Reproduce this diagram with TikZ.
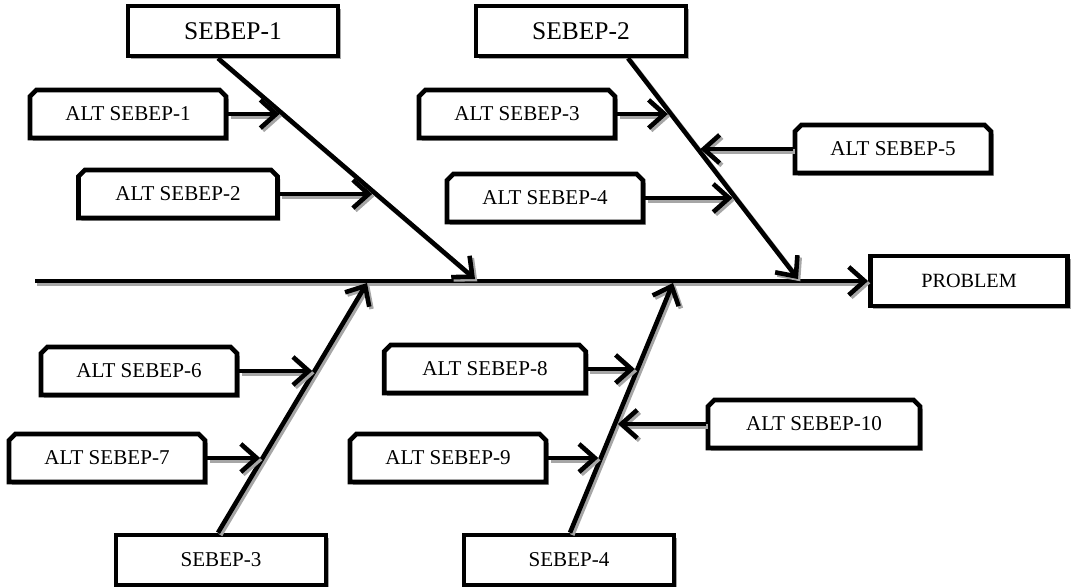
\documentclass[tikz,border=0pt]{standalone}
\usepackage{fontspec}
\setmainfont{Liberation Serif}
\usetikzlibrary{arrows.meta,calc,positioning,shapes.misc,shadows}

\begin{document}
\begin{tikzpicture}[x=0.02cm,y=-0.02cm,>={Straight Barb[length=9pt,width=16pt]},
  shade/.style={drop shadow={shadow xshift=1.6pt,shadow yshift=-1.6pt,fill=gray!70,opacity=1}},
  mainbox/.style={draw,line width=2.6pt,fill=white,minimum width=4.2cm,minimum height=1cm,inner sep=1pt,shade},
  altbox/.style={draw,line width=2.6pt,fill=white,chamfered rectangle,
    chamfered rectangle corners={north west,north east},chamfered rectangle xsep=1.8pt,chamfered rectangle ysep=1.8pt,
    minimum width=3.92cm,minimum height=0.96cm,inner sep=1pt,font=\fontsize{12}{14}\selectfont,shade},
  bone/.style={line width=2.6pt,->,preaction={draw=gray!70,line width=2.6pt,transform canvas={shift={(1.3pt,-1.3pt)}}}}]
  \useasboundingbox (0,0) rectangle (1078,587);
  % heads of the bones
  \node[mainbox,font=\fontsize{14.5}{16}\selectfont] (c1) at (233,31) {SEBEP-1};
  \node[mainbox,font=\fontsize{14.5}{16}\selectfont] (c2) at (581,31) {SEBEP-2};
  \node[mainbox,font=\fontsize{12}{14}\selectfont] (c3) at (221,560) {SEBEP-3};
  \node[mainbox,font=\fontsize{12}{14}\selectfont] (c4) at (569,560) {SEBEP-4};
  \node[mainbox,minimum width=3.95cm,font=\fontsize{11.5}{14}\selectfont] (prob) at (969,281) {PROBLEM};
  % sub causes
  \node[altbox] (s1) at (128,114) {ALT SEBEP-1};
  \node[altbox,minimum width=3.98cm] (s2) at (178,194) {ALT SEBEP-2};
  \node[altbox] (s3) at (517,114) {ALT SEBEP-3};
  \node[altbox] (s4) at (545,198) {ALT SEBEP-4};
  \node[altbox] (s5) at (893,149) {ALT SEBEP-5};
  \node[altbox] (s6) at (139,371) {ALT SEBEP-6};
  \node[altbox] (s7) at (107,458) {ALT SEBEP-7};
  \node[altbox,minimum width=4.03cm] (s8) at (485,369) {ALT SEBEP-8};
  \node[altbox] (s9) at (448,458) {ALT SEBEP-9};
  \node[altbox,minimum width=4.24cm] (s10) at (814,424) {ALT SEBEP-10};
  % spine
  \coordinate (tail) at (35,281);
  \draw[bone] (tail) -- (prob.west);
  % bones
  \coordinate (r1) at ($(c1.south)+(-15,0)$);
  \coordinate (r2) at ($(c2.south)+(47,0)$);
  \coordinate (r3) at ($(c3.north)+(-3,0)$);
  \coordinate (r4) at ($(c4.north)+(1,0)$);
  \coordinate (h1) at (475,279);
  \coordinate (h2) at (798,279);
  \coordinate (h3) at (367,283);
  \coordinate (h4) at (673,283);
  \foreach \r/\h in {r1/h1,r2/h2,r3/h3,r4/h4}
    \draw[bone] (\r) -- (\h);
  % points where the small arrows meet the bones
  \coordinate (j1) at ($(r1)!0.25!(h1)$);
  \coordinate (j2) at ($(r1)!0.61!(h1)$);
  \coordinate (j3) at ($(r2)!0.25!(h2)$);
  \coordinate (j5) at ($(r2)!0.41!(h2)$);
  \coordinate (j4) at ($(r2)!0.63!(h2)$);
  \coordinate (j6) at ($(r3)!0.65!(h3)$);
  \coordinate (j7) at ($(r3)!0.30!(h3)$);
  \coordinate (j8) at ($(r4)!0.655!(h4)$);
  \coordinate (j10) at ($(r4)!0.44!(h4)$);
  \coordinate (j9) at ($(r4)!0.30!(h4)$);
  \foreach \s in {1,2,3,4,6,7,8,9}
    \draw[bone,shorten >=1.5pt] (s\s.east) -- (s\s.east -| j\s);
  \foreach \s in {5,10}
    \draw[bone,shorten >=1.5pt] (s\s.west) -- (s\s.west -| j\s);
\end{tikzpicture}
\end{document}
